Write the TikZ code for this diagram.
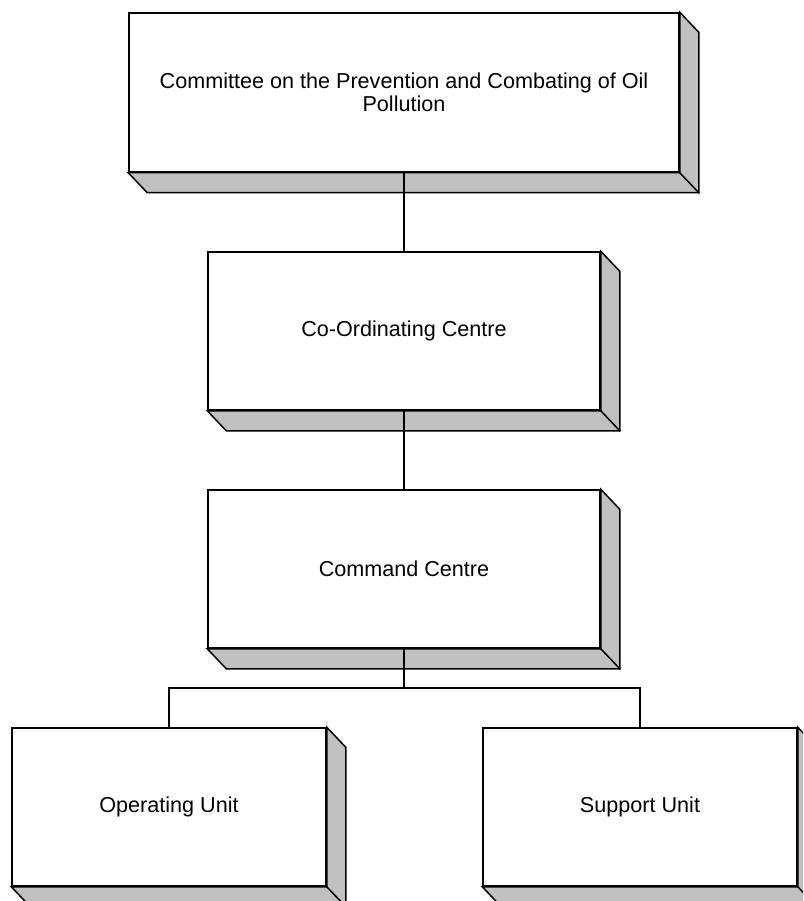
\documentclass[tikz,border=0pt]{standalone}
\usepackage{fontspec}
\setmainfont{Liberation Sans}
\usepackage{tikz}
\usetikzlibrary{calc}
\definecolor{sidegray}{RGB}{192,192,192}
\tikzset{unitbox/.style={draw,line width=1.5pt,fill=white,align=center,inner sep=0pt,
  font=\fontsize{21.6}{23.5}\selectfont}}

\begin{document}
\begin{tikzpicture}[x=1pt,y=-1pt,line cap=rect,line join=miter]
\clip (0,0) rectangle (803,901);
\useasboundingbox (0,0) rectangle (803,901);
\node[unitbox,minimum width=550pt,minimum height=159pt] (committee) at (404,92.5) {Committee on the Prevention and Combating of Oil\\Pollution};
\node[unitbox,minimum width=392pt,minimum height=158pt] (coord) at (404,331) {Co-Ordinating Centre};
\node[unitbox,minimum width=392pt,minimum height=158pt] (command) at (404,569) {Command Centre};
\node[unitbox,minimum width=314pt,minimum height=158pt] (operating) at (169,807) {Operating Unit};
\node[unitbox,minimum width=314pt,minimum height=158pt] (support) at (640,807) {Support Unit};
\foreach \b in {committee,coord,command,operating,support}{
  \draw[line width=1.5pt,fill=sidegray] (\b.north east) -- ++(19,20) |- ($(\b.south west)+(19,20)$) -- (\b.south west) -- (\b.south east) -- cycle;
  \draw[line width=1.5pt] (\b.south east) -- ++(19,20);
}
\coordinate (fork) at (404,688);
\draw[line width=1.3pt] (committee.south) -- (coord.north);
\draw[line width=1.3pt] (coord.south) -- (command.north);
\draw[line width=1.3pt] (command.south) -- (fork);
\draw[line width=1.3pt] (fork) -| (operating.north);
\draw[line width=1.3pt] (fork) -| (support.north);
\end{tikzpicture}
\end{document}
